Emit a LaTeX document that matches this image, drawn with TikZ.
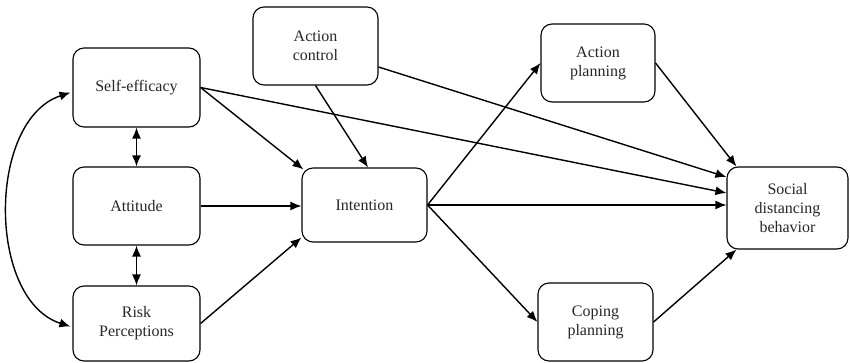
\documentclass[tikz,border=0pt]{standalone}
\usepackage{fontspec}
\setmainfont{Liberation Serif}
\usetikzlibrary{arrows.meta,calc}
\begin{document}
\begin{tikzpicture}[x=1pt,y=-1pt,
  box/.style={draw, rounded corners=11pt, line width=1.1pt, align=center, inner sep=0pt,
    font=\fontsize{16}{19}\selectfont, text=black!85},
  arr/.style={line width=1.4pt, -{Latex[length=11pt,width=9pt]}},
  darr/.style={line width=1.4pt, {Latex[length=11pt,width=9pt]}-{Latex[length=11pt,width=9pt]}}]
\useasboundingbox (0,0) rectangle (850,363);
\node[box, minimum width=127pt, minimum height=79pt] (se) at (136.5,87.5) {Self-efficacy};
\node[box, minimum width=127pt, minimum height=78pt] (att) at (136.5,206) {Attitude};
\node[box, minimum width=127pt, minimum height=75pt] (risk) at (136.5,323.5) {Risk\\Perceptions};
\node[box, minimum width=125pt, minimum height=78pt] (ac) at (315.5,46) {Action\\control};
\node[box, minimum width=125pt, minimum height=74pt] (int) at (364.5,205) {Intention};
\node[box, minimum width=114pt, minimum height=78pt] (ap) at (598,63) {Action\\planning};
\node[box, minimum width=115pt, minimum height=78pt] (cp) at (595.5,322) {Coping\\planning};
\node[box, minimum width=121pt, minimum height=82pt] (soc) at (787.5,208) {Social\\distancing\\behavior};
% arrows
\draw[arr] (se.east) -- ($(int.north west)+(2,2)$);
\draw[arr] (se.east) -- ($(soc.west)+(0,-15)$);
\draw[arr] (ac.south) -- ($(int.north)+(3.5,0)$);
\draw[arr] ($(ac.east)+(0,21)$) -- ($(soc.west)+(0,-31)$);
\draw[arr] (att.east) -- (att.east -| int.west);
\draw[arr] (risk.east) -- ($(int.south west)+(0,-5)$);
\draw[arr] (int.east) -- (ap.west);
\draw[arr] (int.east) -- (cp.west);
\draw[arr] (int.east) -- ($(int.east -| soc.west)$);
\draw[arr] (ap.east) -- ($(soc.north west)+(10,0)$);
\draw[arr] (cp.east) -- ($(soc.south west)+(10,0)$);
\draw[darr] (se.south) -- (att.north);
\draw[darr] (att.south) -- (risk.north);
\draw[darr] ($(se.west)+(-2,5)$) .. controls (-13,120) and (-13,300) .. ($(risk.west)+(-2,3)$);
\end{tikzpicture}
\end{document}
